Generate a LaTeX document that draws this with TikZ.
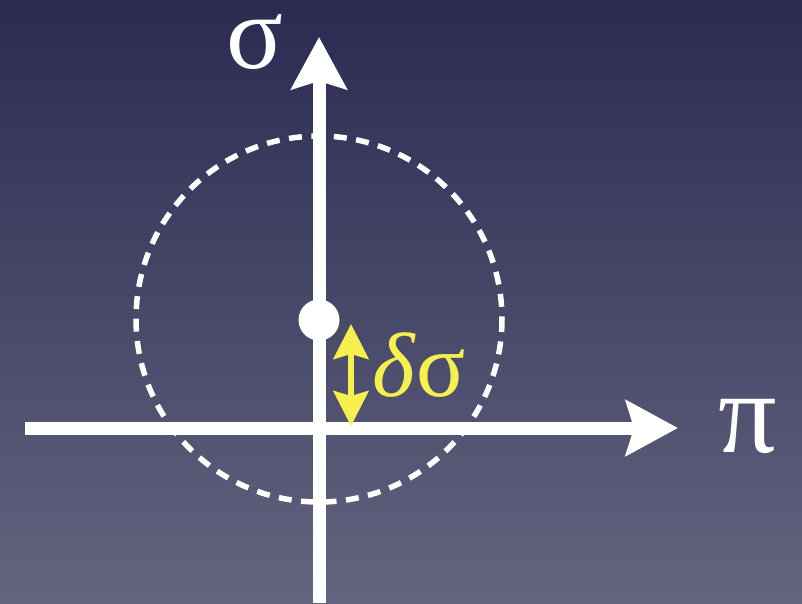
\documentclass[tikz,border=0pt]{standalone}
\usepackage{fontspec}
\setmainfont{Liberation Serif}
\usepackage{xcolor}
\usepackage{tikz}
\usetikzlibrary{arrows.meta,positioning,calc}
\definecolor{bgtop}{HTML}{2B2B52}
\definecolor{bgbot}{HTML}{63647F}
\definecolor{deltayellow}{HTML}{F6F04E}
\tikzset{
  axis/.style={line width=2.6mm,white,-{Stealth[length=10.4mm,width=11mm,inset=1.6mm]}},
  ring/.style={line width=1.1mm,white,dash pattern=on 2.6mm off 1.9mm},
  delta/.style={line width=1.2mm,deltayellow,
    {Stealth[length=7mm,width=7mm,inset=1mm]}-{Stealth[length=7mm,width=7mm,inset=1mm]}},
  greek/.style={inner sep=0pt,white,font=\fontsize{60}{60}\selectfont},
}
\begin{document}
\begin{tikzpicture}[x=0.02cm,y=-0.02cm]
% background
\shade[top color=bgtop,bottom color=bgbot] (0,0) rectangle (802,603);
\useasboundingbox (0,0) rectangle (802,603);

% axis ends
\coordinate (center) at (319,319);
\coordinate (ybot) at (319,603);
\coordinate (ytop) at (319,37);
\coordinate (xleft) at (25,428);
\coordinate (xright) at (678,428);

% dashed circle
\draw[ring] (center) circle (183);

\draw[axis] (xleft) -- (xright);
\draw[axis] (ybot) -- (ytop);

\node[greek] (sig) at (255,42) {σ};
\node[greek,font=\fontsize{66}{66}\selectfont] (pi) at (748,426) {π};

% the point and its shift
\fill[white] (319,320) circle (20.5);
\coordinate (dtop) at (351,324);
\coordinate (dbot) at (351,426);
\draw[delta] (dtop) -- (dbot);
\node[inner sep=0pt,deltayellow,font=\fontsize{52}{52}\selectfont,anchor=base west]
  (dsig) at (372,396) {\textit{δ}σ};
\end{tikzpicture}
\end{document}
